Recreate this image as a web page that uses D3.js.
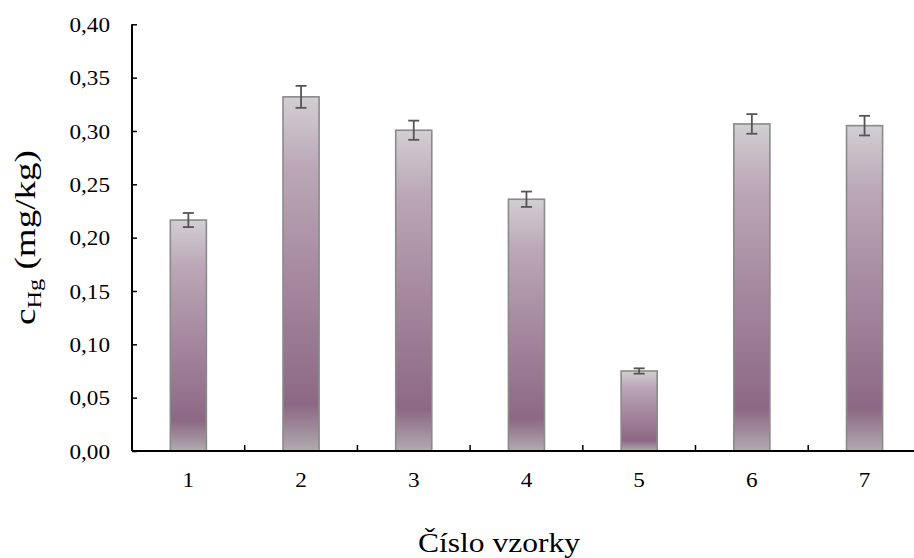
<!DOCTYPE html>
<html><head><meta charset="utf-8">
<script src="https://cdn.jsdelivr.net/npm/d3@7"></script>
<style>body{margin:0;background:#fff}svg{display:block}</style>
</head><body>
<script>
const categories = ["1","2","3","4","5","6","7"];
const values = [0.2165, 0.332, 0.3007, 0.236, 0.075, 0.3066, 0.305];
const errors = [0.0066, 0.0103, 0.0090, 0.0072, 0.0025, 0.0092, 0.0092];
const yTicks = [0,0.05,0.10,0.15,0.20,0.25,0.30,0.35,0.40];

(function(){
const W=914,H=558;
const mLeft=132, mTop=24.3, mBottom=451, band=112.7;
const FF='"Liberation Serif"';
const svg=d3.select("body").append("svg").attr("width",W).attr("height",H);
const x=d3.scaleBand().domain(categories).range([mLeft,mLeft+band*categories.length]).paddingInner(0.68).paddingOuter(0.34);
const y=d3.scaleLinear().domain([0,0.4]).range([mBottom,mTop]);

const defs=svg.append("defs");
const g=defs.append("linearGradient").attr("id","grad").attr("x1",0).attr("y1",0).attr("x2",0).attr("y2",1);
[[0,"#d2cfd2"],[0.2,"#bba7b7"],[0.5,"#a68aa0"],[0.87,"#8d6884"],[0.93,"#9c8797"],[1,"#b2abb0"]]
 .forEach(([o,c])=>g.append("stop").attr("offset",o).attr("stop-color",c));

const fmt=d=>d3.format(".2f")(d).replace(".",",");
const stretch=(sel,k)=>sel.each(function(){const L=this.getComputedTextLength();d3.select(this).attr("textLength",L*k).attr("lengthAdjust","spacingAndGlyphs");});

svg.selectAll("rect.bar").data(values).join("rect").attr("class","bar")
 .attr("x",(d,i)=>x(categories[i])).attr("width",x.bandwidth())
 .attr("y",d=>y(d)).attr("height",d=>mBottom-y(d))
 .attr("fill","url(#grad)").attr("stroke","#8a8a8a").attr("stroke-width",1.6);

const eg=svg.append("g").attr("stroke","#555").attr("stroke-width",1.8);
values.forEach((v,i)=>{
 const cx=x(categories[i])+x.bandwidth()/2;
 eg.append("line").attr("x1",cx).attr("x2",cx).attr("y1",y(v+errors[i])).attr("y2",y(v-errors[i]));
 eg.append("line").attr("x1",cx-5.5).attr("x2",cx+5.5).attr("y1",y(v+errors[i])).attr("y2",y(v+errors[i]));
 eg.append("line").attr("x1",cx-5.5).attr("x2",cx+5.5).attr("y1",y(v-errors[i])).attr("y2",y(v-errors[i]));
});

const ya=svg.append("g").attr("transform",`translate(${mLeft},0)`)
 .call(d3.axisRight(y).tickValues(yTicks).tickSize(5).tickFormat(fmt));
ya.select(".domain").attr("stroke","#000").attr("stroke-width",2).attr("d",`M0,${mTop}V${mBottom}`);
ya.selectAll(".tick line").attr("stroke","#000").attr("stroke-width",1.5);
const ytx=ya.selectAll(".tick text").attr("x",-22).attr("text-anchor","end").attr("dy","0.35em")
 .style("font-family",FF).style("font-size","20.5px").attr("fill","#000");
stretch(ytx,1.13);

const xa=svg.append("g").attr("transform",`translate(0,${mBottom})`)
 .call(d3.axisBottom(x).tickSize(0));
xa.select(".domain").attr("stroke","#000").attr("stroke-width",2).attr("d",`M${mLeft},0H${W}`);
const xtx=xa.selectAll(".tick text").attr("y",36).attr("dy",0).style("font-family",FF).style("font-size","20.5px").attr("fill","#000");
stretch(xtx,1.13);
const bounds=categories.slice(1).map(c=>x(c)-x.step()*x.paddingInner()/2);
svg.append("g").selectAll("line").data(bounds).join("line")
 .attr("x1",d=>d).attr("x2",d=>d).attr("y1",mBottom).attr("y2",mBottom-6)
 .attr("stroke","#000").attr("stroke-width",1.5);

const xt=svg.append("text").attr("x",499).attr("y",552).attr("text-anchor","middle")
 .style("font-family",FF).style("font-size","28px").attr("fill","#000").text("Číslo vzorky");
xt.attr("textLength",162).attr("lengthAdjust","spacingAndGlyphs");

const yt=svg.append("text").attr("text-anchor","middle")
 .style("font-family",FF).style("font-size","29px").attr("fill","#000");
yt.append("tspan").text("c");
yt.append("tspan").style("font-size","19px").attr("dy",6).text("Hg");
yt.append("tspan").attr("dy",-6).text(" (mg/kg)");
const bw=yt.node().getBBox().width;
yt.attr("transform",`translate(35,237.5) rotate(-90) scale(${175/bw},1)`);
})();
</script>
</body></html>
